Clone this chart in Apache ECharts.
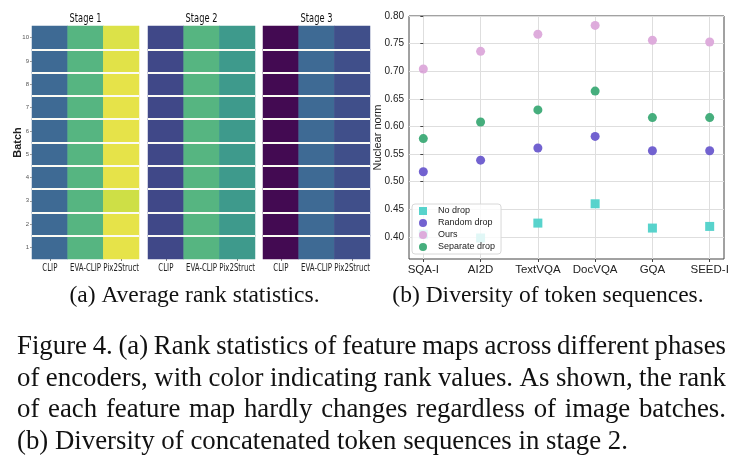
<!DOCTYPE html>
<html><head><meta charset="utf-8">
<script src="https://cdn.jsdelivr.net/npm/echarts@6/dist/echarts.min.js"></script>
<style>html,body{margin:0;padding:0;background:#fff}#c{width:740px;height:471px}</style>
</head><body><div id="c"></div>
<script>
// ---------- data: (a) rank heatmaps ----------
const batches = ['1','2','3','4','5','6','7','8','9','10'];
const encoders = ['CLIP','EVA-CLIP','Pix2Struct'];
const stageNames = ['Stage 1','Stage 2','Stage 3'];
// normalized rank value per encoder (rows = CLIP, EVA-CLIP, Pix2Struct), per batch 1..10
const stage1Rank = [
  [0.30,0.30,0.30,0.30,0.30,0.30,0.30,0.30,0.30,0.30],
  [0.69,0.69,0.69,0.69,0.69,0.69,0.69,0.69,0.69,0.69],
  [0.97,0.97,0.92,0.97,0.97,0.97,0.97,0.97,0.96,0.95]
];
const stage2Rank = [
  [0.20,0.20,0.20,0.20,0.20,0.20,0.20,0.20,0.20,0.20],
  [0.69,0.69,0.69,0.69,0.69,0.69,0.69,0.69,0.69,0.69],
  [0.53,0.53,0.53,0.53,0.53,0.53,0.53,0.53,0.53,0.53]
];
const stage3Rank = [
  [0.00,0.00,0.00,0.00,0.00,0.00,0.00,0.00,0.00,0.00],
  [0.30,0.30,0.30,0.30,0.30,0.30,0.30,0.30,0.30,0.30],
  [0.22,0.22,0.22,0.22,0.22,0.22,0.22,0.22,0.22,0.22]
];
// viridis-like colour ramp (as it appears in the figure)
const rampColors = ['#430a52','#472a73','#404888','#3e6a94','#3a7f91','#3c948d','#44a888','#58b680','#85cc5e','#c4dd45','#f4e64a'];

// ---------- data: (b) nuclear norm scatter ----------
const datasets = ['SQA-I','AI2D','TextVQA','DocVQA','GQA','SEED-I'];
const noDrop       = [0.405,0.398,0.425,0.460,0.416,0.419];
const randomDrop   = [0.518,0.539,0.561,0.582,0.556,0.556];
const ours         = [0.704,0.736,0.767,0.783,0.756,0.753];
const separateDrop = [0.578,0.608,0.630,0.664,0.616,0.616];
const yTicks = [0.40,0.45,0.50,0.55,0.60,0.65,0.70,0.75,0.80];
const xTicks = [0,1,2,3,4,5];

// ---------- captions ----------
const subCaptionA = '(a) Average rank statistics.';
const subCaptionB = '(b) Diversity of token sequences.';
const captionLines = [
  'Figure 4. (a) Rank statistics of feature maps across different phases',
  'of encoders, with color indicating rank values. As shown, the rank',
  'of each feature map hardly changes regardless of image batches.',
  '(b) Diversity of concatenated token sequences in stage 2.'
];

const SANS = '"Liberation Sans",Arial,sans-serif';
const DJV = '"DejaVu Sans",sans-serif';
const SERIF = '"Liberation Serif","DejaVu Serif",serif';
const mctx = document.createElement('canvas').getContext('2d');
function measure(text, font){ mctx.font = font; return mctx.measureText(text).width; }

const chart = echarts.init(document.getElementById('c'), null, {renderer:'canvas'});

const heatGrids = [
  {left:32, top:26, width:107, height:233},
  {left:148, top:26, width:107, height:233},
  {left:263, top:26, width:107, height:233}
];
const stages = [stage1Rank, stage2Rank, stage3Rank];

const xAxes = [], yAxes = [], series = [];
heatGrids.forEach((g, s) => {
  xAxes.push({
    type:'category', gridIndex:s, data:encoders,
    axisLine:{show:false},
    axisTick:{show:true, alignWithLabel:true, length:2, lineStyle:{color:'#777'}},
    axisLabel:{show:false},
    splitLine:{show:false}
  });
  yAxes.push({
    type:'category', gridIndex:s, data:batches, z:10,
    axisLine:{show:false},
    axisTick:{show:s===0, alignWithLabel:true, length:2, lineStyle:{color:'#999'}},
    axisLabel:{show:s===0, fontFamily:SANS, fontSize:6, color:'#555', margin:3},
    splitLine:{show:true, showMinLine:false, showMaxLine:false, lineStyle:{color:'#fbfbf4', width:2}},
    name: s===0 ? 'Batch' : '', nameLocation:'middle', nameRotate:90, nameGap:9, nameMoveOverlap:false,
    nameTextStyle:{fontFamily:SANS, fontSize:11, fontWeight:'bold', color:'#222'}
  });
  const data = [];
  encoders.forEach((e, ei) => batches.forEach((b, bi) => data.push([ei, bi, stages[s][ei][bi]])));
  series.push({type:'heatmap', xAxisIndex:s, yAxisIndex:s, data:data, itemStyle:{borderWidth:0}, emphasis:{disabled:true}});
});

// scatter grid
xAxes.push({
  type:'value', gridIndex:3, min:-0.25, max:5.25,
  axisLine:{show:false},
  axisTick:{show:true, length:3, customValues:xTicks, lineStyle:{color:'#444'}},
  axisLabel:{customValues:xTicks, formatter:v => datasets[Math.round(v)], fontFamily:SANS, fontSize:11.5, color:'#222', margin:5},
  splitLine:{show:true, lineStyle:{color:'#dedede', width:1}}
});
yAxes.push({
  type:'value', gridIndex:3, min:0.36, max:0.80,
  axisLine:{show:false},
  axisTick:{show:true, length:3, customValues:yTicks, lineStyle:{color:'#444'}},
  axisLabel:{customValues:yTicks, formatter:v => v.toFixed(2), fontFamily:SANS, fontSize:10, color:'#222', margin:5},
  splitLine:{show:true, lineStyle:{color:'#dedede', width:1}},
  name:'Nuclear norm', nameLocation:'middle', nameRotate:90, nameGap:26, nameMoveOverlap:false,
  nameTextStyle:{fontFamily:SANS, fontSize:11, color:'#222'}
});

const scatterSeries = [
  {name:'No drop', vals:noDrop, color:'#4fd1c9', symbol:'rect'},
  {name:'Random drop', vals:randomDrop, color:'#6a5acd', symbol:'circle'},
  {name:'Ours', vals:ours, color:'#dca8da', symbol:'circle'},
  {name:'Separate drop', vals:separateDrop, color:'#3caa76', symbol:'circle'}
];
scatterSeries.forEach(d => series.push({
  type:'scatter', name:d.name, xAxisIndex:3, yAxisIndex:3, symbol:d.symbol, symbolSize:9,
  itemStyle:{color:d.color, opacity:0.95}, emphasis:{disabled:true},
  data:d.vals.map((v,i) => [i, v])
}));

chart.setOption({
  animation:false,
  backgroundColor:'#fff',
  grid:[...heatGrids, {left:409, top:16, width:315, height:243, show:true, borderColor:'#444', borderWidth:1, backgroundColor:'transparent'}],
  xAxis:xAxes,
  yAxis:yAxes,
  visualMap:{show:false, seriesIndex:[0,1,2], dimension:2, min:0, max:1, inRange:{color:rampColors}},
  legend:{
    orient:'vertical', left:412, top:204, itemWidth:8, itemHeight:8, itemGap:2,
    padding:[2,6,2,7], backgroundColor:'rgba(255,255,255,0.82)', borderColor:'#d8d8d8', borderWidth:1, borderRadius:3,
    textStyle:{fontFamily:SANS, fontSize:9, lineHeight:10, color:'#222', padding:[0,0,0,6]},
    data:scatterSeries.map(d => ({name:d.name, icon:d.symbol}))
  },
  series:series
});

// ---------- text graphics: squeezed heatmap labels/titles + captions ----------
const graphics = [];
heatGrids.forEach((g, s) => {
  graphics.push({type:'text', x:g.left + g.width/2, y:19, scaleX:0.72,
    style:{text:stageNames[s], font:'11.5px ' + DJV, fill:'#111', textAlign:'center', textVerticalAlign:'middle'}});
  encoders.forEach((e, ei) => {
    const px = chart.convertToPixel({xAxisIndex:s}, ei);
    graphics.push({type:'text', x:px, y:268, scaleX:0.7,
      style:{text:e, font:'10px ' + DJV, fill:'#222', textAlign:'center', textVerticalAlign:'middle'}});
  });
});
const subFs = 23.5;
graphics.push({type:'text', x:194.5, y:295.5, style:{text:subCaptionA, font:subFs+'px '+SERIF, fill:'#111', textAlign:'center', textVerticalAlign:'middle'}});
graphics.push({type:'text', x:548, y:295.5, style:{text:subCaptionB, font:subFs+'px '+SERIF, fill:'#111', textAlign:'center', textVerticalAlign:'middle'}});
const capFs = 26.8, capX0 = 17, capX1 = 726, capY0 = 347, capDy = 31.7;
const capFont = capFs + 'px ' + SERIF;
captionLines.forEach((line, li) => {
  const y = capY0 + li*capDy;
  if (li === captionLines.length - 1) {
    graphics.push({type:'text', x:capX0, y:y, style:{text:line, font:capFont, fill:'#111', textAlign:'left', textVerticalAlign:'middle'}});
    return;
  }
  const words = line.split(' ');
  const widths = words.map(w => measure(w, capFont));
  const total = widths.reduce((a,b)=>a+b, 0);
  const gap = (capX1 - capX0 - total) / (words.length - 1);
  let x = capX0;
  words.forEach((w, wi) => {
    graphics.push({type:'text', x:x, y:y, style:{text:w, font:capFont, fill:'#111', textAlign:'left', textVerticalAlign:'middle'}});
    x += widths[wi] + gap;
  });
});
chart.setOption({graphic:graphics});
</script></body></html>
